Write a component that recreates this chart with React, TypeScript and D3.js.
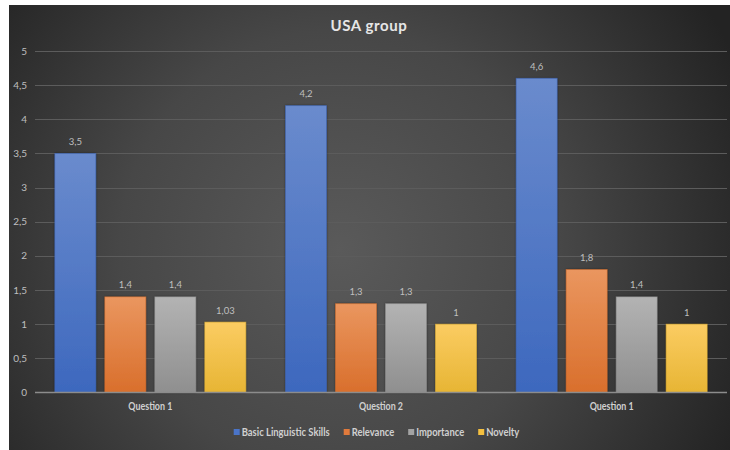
import React, { useEffect, useRef } from "react";
import * as d3 from "d3";

const categories = ["Question 1", "Question 2", "Question 1"];
const seriesNames = ["Basic Linguistic Skills", "Relevance", "Importance", "Novelty"];
const basicSkills = [3.5, 4.2, 4.6];
const relevance = [1.4, 1.3, 1.8];
const importance = [1.4, 1.3, 1.4];
const novelty = [1.03, 1, 1];
const valueLabels = [
  ["3,5", "4,2", "4,6"],
  ["1,4", "1,3", "1,8"],
  ["1,4", "1,3", "1,4"],
  ["1,03", "1", "1"],
];
const yTicks = [0, 0.5, 1, 1.5, 2, 2.5, 3, 3.5, 4, 4.5, 5];
const yTickLabels = ["0", "0,5", "1", "1,5", "2", "2,5", "3", "3,5", "4", "4,5", "5"];
const title = "USA group";

const seriesValues = [basicSkills, relevance, importance, novelty];
const topColors = ["#6a8bcd", "#ea965f", "#b3b3b3", "#fbcc62"];
const bottomColors = ["#3d68be", "#d96f2c", "#8f8f8f", "#e7b534"];
const legendColors = ["#4a74c8", "#e07a3c", "#a3a3a3", "#f4c040"];

const W = 730;
const H = 450;
const FONT = "Lato, 'Open Sans', sans-serif";

export default function App() {
  const ref = useRef<SVGSVGElement | null>(null);

  useEffect(() => {
    const svg = d3.select(ref.current);
    svg.selectAll("*").remove();

    const defs = svg.append("defs");
    const bg = defs
      .append("radialGradient")
      .attr("id", "bg")
      .attr("gradientUnits", "userSpaceOnUse")
      .attr("cx", 340)
      .attr("cy", 250)
      .attr("r", 440);
    bg.append("stop").attr("offset", "0%").attr("stop-color", "#5a5a5a");
    bg.append("stop").attr("offset", "50%").attr("stop-color", "#474747");
    bg.append("stop").attr("offset", "100%").attr("stop-color", "#232323");

    seriesNames.forEach((_, i) => {
      const g = defs
        .append("linearGradient")
        .attr("id", `bar${i}`)
        .attr("x1", 0)
        .attr("y1", 0)
        .attr("x2", 0)
        .attr("y2", 1);
      g.append("stop").attr("offset", "0%").attr("stop-color", topColors[i]);
      g.append("stop").attr("offset", "100%").attr("stop-color", bottomColors[i]);
    });

    const shadow = defs.append("filter").attr("id", "shadow").attr("x", "-20%").attr("y", "-20%").attr("width", "140%").attr("height", "140%");
    shadow
      .append("feDropShadow")
      .attr("dx", 0)
      .attr("dy", 0)
      .attr("stdDeviation", 1.2)
      .attr("flood-color", "#000")
      .attr("flood-opacity", 0.45);

    // background
    svg.append("rect").attr("x", 0).attr("y", 0).attr("width", W).attr("height", H).attr("fill", "#ffffff");
    svg.append("rect").attr("x", 9).attr("y", 5).attr("width", W - 9).attr("height", H - 5).attr("fill", "url(#bg)");

    const left = 35;
    const right = 727;
    const y = d3.scaleLinear().domain([0, 5]).range([392.5, 51]);
    const x0 = d3
      .scaleBand<number>()
      .domain(categories.map((_, i) => i))
      .range([left, right])
      .paddingInner(0)
      .paddingOuter(0);
    const x1 = d3
      .scaleBand<number>()
      .domain(seriesNames.map((_, i) => i))
      .range([0, x0.bandwidth()])
      .paddingInner(0.18)
      .paddingOuter(0.397);

    // gridlines
    svg
      .append("g")
      .selectAll("line")
      .data(yTicks.filter((t) => t > 0))
      .join("line")
      .attr("x1", left)
      .attr("x2", right)
      .attr("y1", (d) => Math.round(y(d)) + 0.5)
      .attr("y2", (d) => Math.round(y(d)) + 0.5)
      .attr("stroke", "#5c5c5c")
      .attr("stroke-width", 1);

    // y tick labels
    svg
      .append("g")
      .selectAll("text")
      .data(yTicks)
      .join("text")
      .attr("x", 27)
      .attr("y", (d) => y(d) + 3.5)
      .attr("text-anchor", "end")
      .attr("font-family", FONT)
      .attr("font-size", 10)
      .attr("fill", "#bfbfbf")
      .text((_, i) => yTickLabels[i]);

    // bars
    const groups = svg
      .append("g")
      .selectAll("g")
      .data(categories.map((_, i) => i))
      .join("g")
      .attr("transform", (d) => `translate(${x0(d)},0)`);

    groups
      .selectAll("rect")
      .data((ci) => seriesValues.map((vals, si) => ({ si, ci, v: vals[ci] })))
      .join("rect")
      .attr("x", (d) => x1(d.si)!)
      .attr("y", (d) => y(d.v))
      .attr("width", x1.bandwidth())
      .attr("height", (d) => y(0) - y(d.v))
      .attr("fill", (d) => `url(#bar${d.si})`)
      .attr("stroke", (d) => bottomColors[d.si])
      .attr("stroke-opacity", 0.6)
      .attr("stroke-width", 0.8)
      .attr("filter", "url(#shadow)");

    groups
      .selectAll("text")
      .data((ci) => seriesValues.map((vals, si) => ({ si, ci, v: vals[ci] })))
      .join("text")
      .attr("x", (d) => x1(d.si)! + x1.bandwidth() / 2)
      .attr("y", (d) => y(d.v) - 8.5)
      .attr("text-anchor", "middle")
      .attr("font-family", FONT)
      .attr("font-size", 9.5)
      .attr("fill", "#bfbfbf")
      .text((d) => valueLabels[d.si][d.ci]);

    // axis line
    svg
      .append("line")
      .attr("x1", left)
      .attr("x2", right)
      .attr("y1", y(0))
      .attr("y2", y(0))
      .attr("stroke", "#8c8c8c")
      .attr("stroke-width", 1.5);

    // category labels: natural size 10.5, condensed to ~44px like reference
    const catText = svg
      .append("g")
      .selectAll("text")
      .data(categories)
      .join("text")
      .attr("x", (_, i) => x0(i)! + x0.bandwidth() / 2)
      .attr("y", 410)
      .attr("text-anchor", "middle")
      .attr("font-family", FONT)
      .attr("font-size", 10.5)
      .attr("font-weight", 700)
      .attr("fill", "#d0d0d0")
      .text((d) => d);
    const cw = (catText.node() as SVGTextElement).getComputedTextLength();
    if (cw > 44) {
      catText.attr("textLength", 44).attr("lengthAdjust", "spacingAndGlyphs");
    }

    // title
    svg
      .append("text")
      .attr("x", 369)
      .attr("y", 30.5)
      .attr("text-anchor", "middle")
      .attr("font-family", FONT)
      .attr("font-size", 15)
      .attr("font-weight", 700)
      .attr("letter-spacing", 0.6)
      .attr("fill", "#e6e6e6")
      .text(title);

    // legend: measure at 11px, condense to reference widths, center at 376.5
    const legend = svg.append("g");
    const texts = seriesNames.map((name) =>
      legend
        .append("text")
        .attr("y", 436)
        .attr("font-family", FONT)
        .attr("font-size", 11)
        .attr("font-weight", 700)
        .attr("fill", "#d0d0d0")
        .text(name)
    );
    const natural = texts.map((t) => (t.node() as SVGTextElement).getComputedTextLength());
    const ratio = natural[0] > 0 ? Math.min(1, 88 / natural[0]) : 1;
    const widths = natural.map((w) => w * ratio);
    texts.forEach((t, i) => {
      if (ratio < 1) t.attr("textLength", widths[i]).attr("lengthAdjust", "spacingAndGlyphs");
    });
    const sq = 6;
    const sqGap = 2;
    const itemGap = 14;
    const total = widths.reduce((a, w) => a + sq + sqGap + w, 0) + itemGap * (widths.length - 1);
    let cx = 376.5 - total / 2;
    texts.forEach((t, i) => {
      legend
        .append("rect")
        .attr("x", cx)
        .attr("y", 429)
        .attr("width", sq)
        .attr("height", sq)
        .attr("fill", legendColors[i]);
      t.attr("x", cx + sq + sqGap);
      cx += sq + sqGap + widths[i] + itemGap;
    });
  }, []);

  return (
    <div style={{ position: "absolute", left: 0, top: 0 }}>
      <svg ref={ref} width={W} height={H} style={{ display: "block" }} />
    </div>
  );
}
